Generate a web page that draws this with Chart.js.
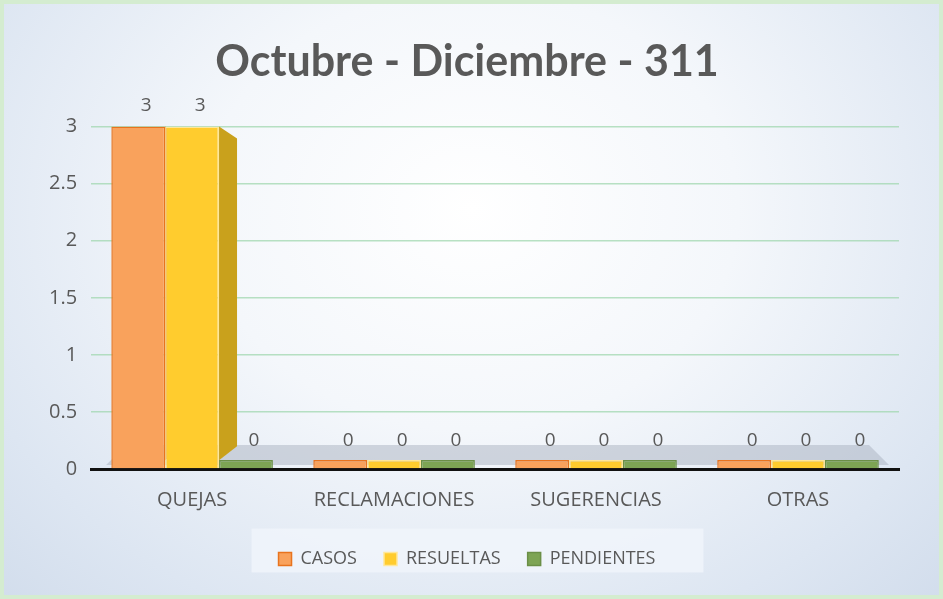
<!DOCTYPE html>
<html>
<head>
<meta charset="utf-8">
<script src="https://cdn.jsdelivr.net/npm/chart.js@4.4.0/dist/chart.umd.min.js"></script>
<style>
  html, body { margin: 0; padding: 0; }
  body {
    width: 943px; height: 599px; overflow: hidden;
    background: radial-gradient(ellipse at 50% 35%, #ffffff 0%, #f4f7fb 40%, #dde6f2 80%, #d2ddec 100%);
  }
  #wrap { position: absolute; left: 0; top: 0; width: 943px; height: 599px; box-sizing: border-box; border: 4px solid #d4ecd0; }
  canvas { display: block; }
</style>
</head>
<body>
<div id="wrap"><canvas id="chart" width="935" height="591"></canvas></div>
<script>
var categories = ['QUEJAS', 'RECLAMACIONES', 'SUGERENCIAS', 'OTRAS'];
var casos = [3, 0, 0, 0];
var resueltas = [3, 0, 0, 0];
var pendientes = [0, 0, 0, 0];
var yTicks = [0, 0.5, 1, 1.5, 2, 2.5, 3];

var textGrey = '#595959';
var titleFont = 'Lato, "Open Sans", sans-serif';
var font = '"Open Sans", Lato, sans-serif';

// darker side colours for the fake 3d look
var sideColors = ['#d9741f', '#c9a11c', '#5f7f3c'];

var floorPlugin = {
    id: 'floor',
    beforeDatasetsDraw: function(chart) {
        var ctx = chart.ctx;
        var a = chart.chartArea;
        var base = chart.scales.y.getPixelForValue(0);
        ctx.save();
        ctx.fillStyle = 'rgba(170,178,192,0.5)';
        ctx.beginPath();
        ctx.moveTo(a.left + 35, base - 24);
        ctx.lineTo(a.right - 30, base - 24);
        ctx.lineTo(a.right - 10, base - 4);
        ctx.lineTo(a.left + 15, base - 4);
        ctx.closePath();
        ctx.fill();

        // side faces go under the bars, so only the free ones stay visible
        chart.data.datasets.forEach(function(ds, i) {
            var meta = chart.getDatasetMeta(i);
            ctx.fillStyle = sideColors[i];
            meta.data.forEach(function(bar, j) {
                if (ds.data[j] <= 0) return;
                var p = bar.getProps(['x', 'y', 'base', 'width'], true);
                var r = p.x + p.width / 2;
                ctx.beginPath();
                ctx.moveTo(r, p.y);
                ctx.lineTo(r + 18, p.y + 12);
                ctx.lineTo(r + 18, p.base - 22);
                ctx.lineTo(r, p.base - 8);
                ctx.closePath();
                ctx.fill();
            });
        });
        ctx.restore();
    }
};

var labelPlugin = {
    id: 'valueLabels',
    afterDatasetsDraw: function(chart) {
        var ctx = chart.ctx;
        ctx.save();
        ctx.font = '19px ' + font;
        ctx.fillStyle = textGrey;
        ctx.textAlign = 'center';
        ctx.textBaseline = 'bottom';
        chart.data.datasets.forEach(function(ds, i) {
            var meta = chart.getDatasetMeta(i);
            meta.data.forEach(function(bar, j) {
                var p = bar.getProps(['x', 'y'], true);
                var off = ds.data[j] > 0 ? 12 : 10;
                ctx.fillText(String(ds.data[j]), p.x + 8, p.y - off);
            });
        });
        ctx.restore();
    }
};

var legendBoxPlugin = {
    id: 'legendBox',
    beforeDraw: function(chart) {
        var l = chart.legend;
        if (!l) return;
        var ctx = chart.ctx;
        ctx.save();
        ctx.fillStyle = 'rgba(240,244,250,0.85)';
        var w = 452;
        var x = chart.width / 2 - w / 2 + 6;
        var cy = l.top + l.height / 2;
        ctx.fillRect(x, cy - 22, w, 44);
        ctx.restore();
    }
};

window.onload = function() {
    var ctx = document.getElementById('chart').getContext('2d');
    window.bar = new Chart(ctx, {
        type: 'bar',
        data: {
            labels: categories,
            datasets: [
                { label: 'CASOS', data: casos, backgroundColor: '#f9a25c', borderColor: '#e8731e', borderWidth: 1.5, minBarLength: 9 },
                { label: 'RESUELTAS', data: resueltas, backgroundColor: '#ffcc2e', borderColor: '#ffe79a', borderWidth: 1.5, minBarLength: 9 },
                { label: 'PENDIENTES', data: pendientes, backgroundColor: '#7da454', borderColor: '#6b8f47', borderWidth: 1.5, minBarLength: 9 }
            ]
        },
        options: {
            responsive: false,
            animation: false,
            layout: { padding: { left: 31, right: 40, top: 0, bottom: 17 } },
            datasets: { bar: { categoryPercentage: 0.8, barPercentage: 1.0 } },
            scales: {
                x: {
                    grid: { display: false },
                    border: { color: '#111111', width: 3 },
                    ticks: { color: textGrey, font: { family: font, size: 20 }, padding: 11 }
                },
                y: {
                    min: 0,
                    max: 3,
                    afterBuildTicks: function(axis) {
                        axis.ticks = yTicks.map(function(v) { return { value: v }; });
                    },
                    grid: { color: 'rgba(160,215,175,0.75)', lineWidth: 1.5, drawTicks: false },
                    border: { display: false },
                    ticks: {
                        color: textGrey,
                        font: { family: font, size: 20 },
                        padding: 14,
                        callback: function(v) { return String(v); }
                    }
                }
            },
            plugins: {
                title: {
                    display: true,
                    text: 'Octubre - Diciembre - 311',
                    color: textGrey,
                    font: { family: titleFont, size: 43, weight: 'bold' },
                    padding: { top: 32, bottom: 39 }
                },
                legend: {
                    position: 'bottom',
                    labels: {
                        color: textGrey,
                        font: { family: font, size: 18 },
                        boxWidth: 13,
                        boxHeight: 13,
                        padding: 27
                    }
                },
                tooltip: { enabled: false }
            }
        },
        plugins: [floorPlugin, labelPlugin, legendBoxPlugin]
    });
};
</script>
</body>
</html>
